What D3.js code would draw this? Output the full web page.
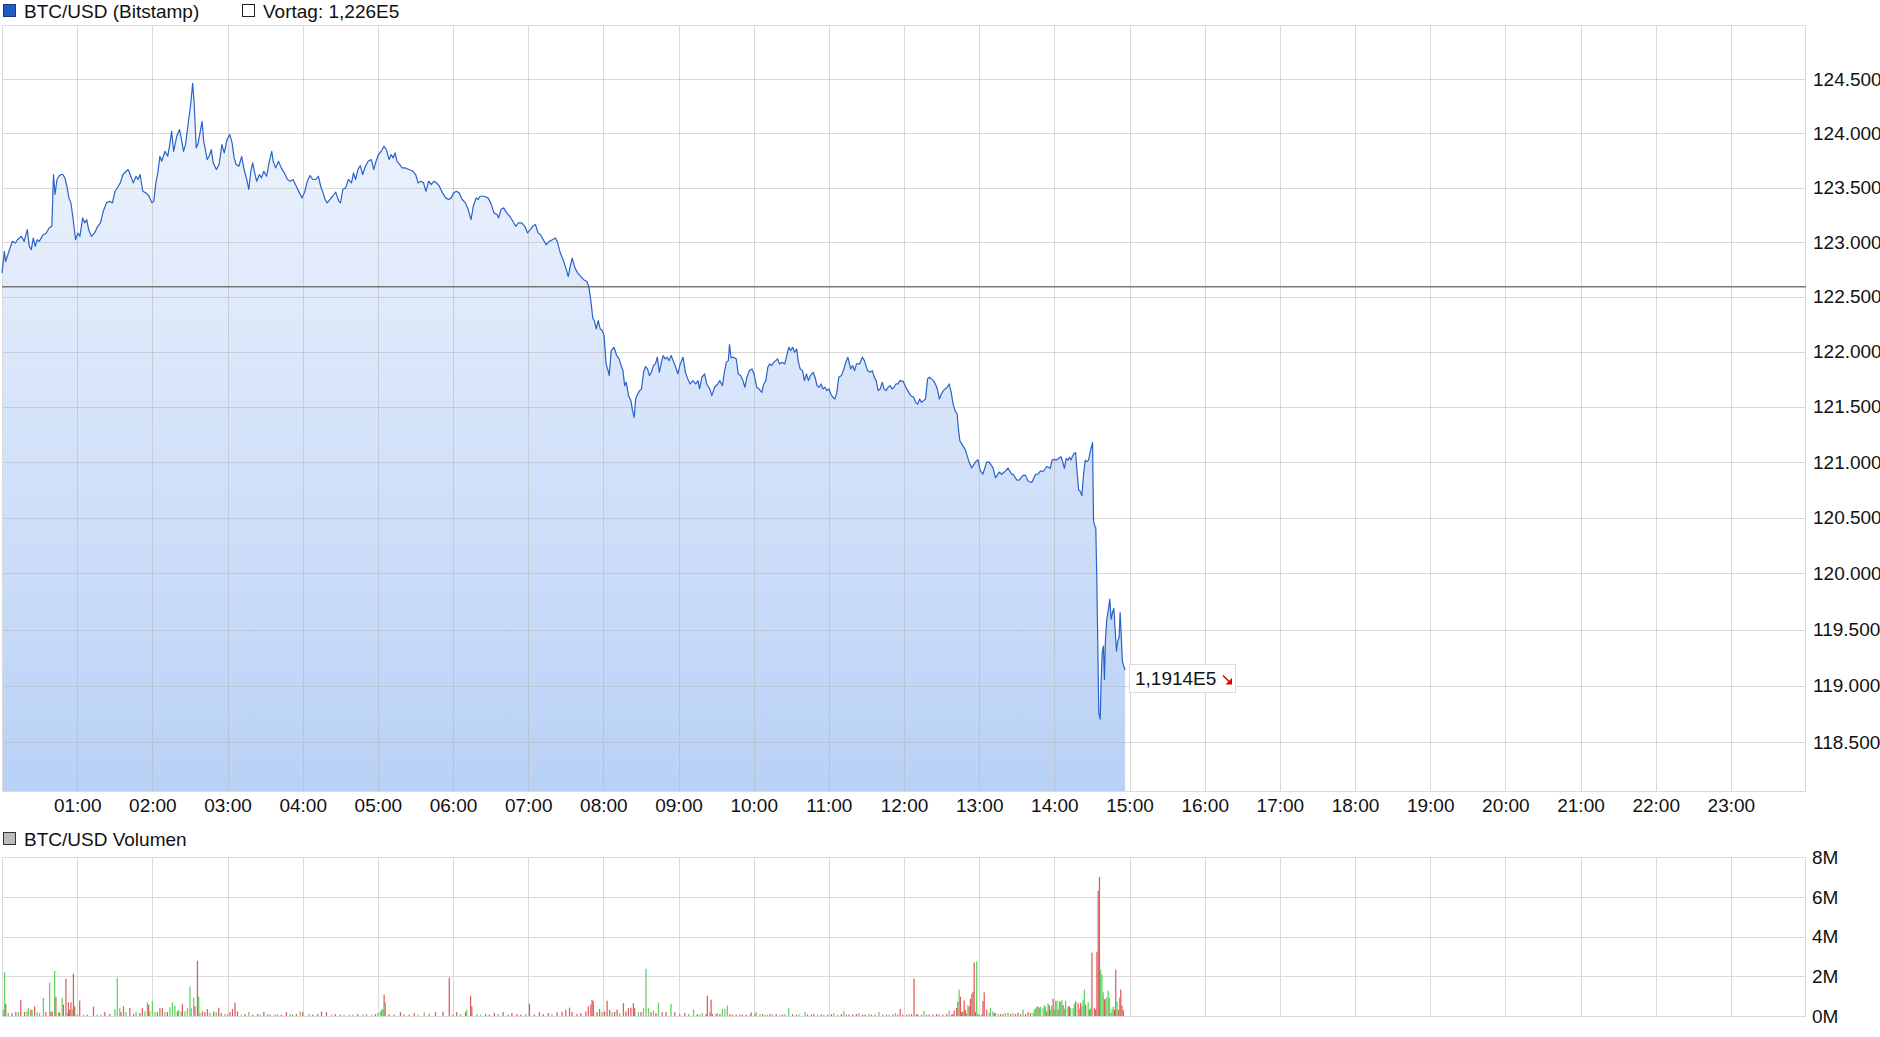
<!DOCTYPE html>
<html><head><meta charset="utf-8">
<script src="https://cdn.jsdelivr.net/npm/d3@7"></script>
<style>
html,body{margin:0;padding:0;background:#fff;}
svg{display:block;font-family:"Liberation Sans",Arial,sans-serif;}
</style></head><body>
<svg id="c" width="1880" height="1037"></svg>
<script>
// ---------- data ----------
const seriesName = "BTC/USD (Bitstamp)";
const prevCloseLabel = "Vortag: 1,226E5";
const volumeName = "BTC/USD Volumen";
const prevClose = 122590;
const lastLabel = "1,1914E5";
const xTickMinutes = [60,120,180,240,300,360,420,480,540,600,660,720,780,840,900,960,1020,1080,1140,1200,1260,1320,1380];
const xTickLabels = ["01:00","02:00","03:00","04:00","05:00","06:00","07:00","08:00","09:00","10:00","11:00","12:00","13:00","14:00","15:00","16:00","17:00","18:00","19:00","20:00","21:00","22:00","23:00"];
const priceTicks = [118500,119000,119500,120000,120500,121000,121500,122000,122500,123000,123500,124000,124500];
const volTicks = [0,2,4,6,8];
const volTickLabels = ["0M","2M","4M","6M","8M"];
// [minute of day, price]
const pricePoints = [[0,122715],[1.9,122914],[2.9,122822],[5.1,122899],[8.2,123006],[10.8,122991],[12.3,123021],[15.5,123052],[17.7,123006],[20.2,123113],[21.8,122960],[23.4,122930],[25,123037],[26.5,122960],[28.1,123021],[29.7,123006],[32.9,123067],[35.4,123083],[37.6,123129],[39.8,123144],[41.1,123620],[42.3,123436],[43.9,123574],[45.5,123604],[47.1,123620],[48.6,123620],[50.2,123589],[51.8,123512],[53.4,123405],[55,123359],[56.5,123236],[58.7,123021],[60.6,123083],[62.2,123052],[64.4,123221],[66,123175],[67.6,123205],[69.2,123113],[71.4,123052],[73.9,123083],[76.4,123144],[78.6,123175],[80.8,123282],[83.4,123359],[85.9,123374],[88.1,123359],[90.3,123466],[92.8,123512],[94.4,123543],[96.6,123620],[99.1,123650],[100.7,123666],[102.3,123620],[104.8,123543],[107,123604],[108.6,123574],[110.2,123620],[112.4,123466],[114.9,123451],[117.4,123420],[119.7,123359],[121.2,123374],[122.8,123543],[124.4,123635],[126,123788],[127.5,123742],[130.1,123834],[132.3,123788],[133.9,123896],[135.4,124018],[137,123834],[139.5,123972],[141.7,124034],[143.3,123942],[144.9,123834],[146.5,123896],[149,124126],[150.6,124264],[152.2,124463],[153.4,124279],[155,123865],[156.6,123911],[158.5,124034],[159.7,124110],[161,123926],[162.3,123850],[163.8,123758],[165.4,123788],[167,123850],[168.6,123727],[171.1,123666],[173.3,123712],[175.5,123896],[177.4,123819],[179.6,123942],[181.8,123988],[183.7,123911],[185.3,123773],[186.9,123712],[189.1,123696],[191.3,123788],[193.2,123666],[195.4,123574],[197,123482],[198.6,123650],[200.1,123727],[201.7,123635],[203.3,123558],[205.5,123620],[207.1,123589],[209,123650],[211.2,123604],[213.4,123742],[215.3,123834],[216.5,123742],[218.4,123681],[220.7,123742],[222.9,123681],[225.4,123635],[227.9,123574],[230.1,123558],[232.3,123574],[234.9,123512],[237.4,123451],[239.6,123405],[241.8,123466],[243.7,123558],[245.9,123610],[248.1,123574],[250.6,123574],[252.5,123604],[254.4,123512],[256.3,123451],[257.9,123390],[259.5,123359],[261.7,123390],[263.9,123420],[266.4,123457],[268.9,123374],[270.2,123359],[272.1,123482],[274.3,123497],[276.5,123574],[279,123543],[280.6,123635],[282.2,123574],[284.1,123666],[286,123702],[287.9,123620],[290.1,123696],[292.3,123742],[294.8,123758],[296.7,123666],[298.6,123742],[300.5,123804],[302.7,123834],[304.9,123880],[306.8,123850],[309,123758],[310.6,123804],[312.2,123773],[313.8,123819],[315.3,123742],[317.5,123712],[319.4,123681],[321.6,123681],[324.8,123666],[328,123650],[330.2,123620],[332.1,123543],[334.3,123558],[336.5,123543],[338.4,123466],[340.6,123558],[342.8,123528],[344.7,123558],[346.9,123543],[349.1,123512],[351.6,123451],[354.2,123405],[356.4,123390],[358.6,123405],[360.5,123451],[362.7,123466],[364.9,123451],[367.4,123390],[369.9,123359],[372.1,123298],[374.4,123206],[376.2,123328],[378.5,123405],[380,123390],[381.6,123420],[384.8,123420],[387.9,123405],[390.1,123359],[392.7,123267],[395.2,123252],[396.4,123221],[398.3,123298],[400.5,123313],[402.8,123267],[405.3,123236],[407.8,123190],[410,123144],[412.2,123175],[414.8,123175],[417.3,123144],[419.5,123083],[421.7,123113],[423.6,123144],[425.8,123160],[428,123083],[429.9,123067],[432.1,123021],[434.3,122975],[436.8,123006],[439.4,123021],[441.6,123037],[443.2,123006],[445.7,122899],[447.9,122837],[450.1,122761],[452,122684],[453.3,122761],[455.1,122853],[457.4,122761],[459.6,122715],[462.1,122684],[464.6,122653],[466.8,122638],[468.4,122592],[470,122469],[471.6,122301],[472.8,122282],[474.3,122206],[475.9,122282],[477.5,122206],[479.1,122191],[480.6,122145],[482.2,121888],[483.8,121827],[484.7,121782],[486.3,122009],[488.5,122039],[490.7,121964],[492.6,121933],[494.2,121873],[495.7,121827],[497,121691],[498.3,121721],[500.1,121600],[502,121555],[503.3,121464],[504.6,121403],[505.8,121570],[507.4,121615],[509,121646],[510.5,121661],[512.1,121812],[513.7,121864],[515.3,121842],[516.8,121782],[518.4,121812],[520,121873],[521.6,121888],[523.1,121949],[524.7,121812],[526.3,121903],[527.8,121964],[529.4,121933],[531,121949],[532.6,121918],[534.1,121964],[535.7,121918],[537.3,121873],[539.5,121797],[541.4,121888],[543.6,121949],[545.5,121812],[547.4,121752],[549.3,121706],[551.5,121736],[553.7,121706],[555.6,121736],[556.8,121661],[558.7,121767],[560.9,121797],[562.5,121706],[565,121661],[566.6,121600],[568.8,121676],[571.3,121706],[572.9,121736],[575.1,121691],[576.6,121812],[578.2,121903],[579.8,121918],[580.7,122064],[582,121942],[583.9,121949],[586.1,121933],[587.7,121797],[589.6,121782],[591.4,121736],[593,121676],[594.6,121767],[596.5,121827],[598.7,121842],[600.3,121797],[602.5,121676],[604.3,121661],[606.5,121630],[608.1,121706],[609.7,121736],[611.3,121858],[612.8,121888],[614.4,121873],[616,121903],[617.6,121918],[619.1,121933],[620.7,121888],[622.9,121903],[624.8,121888],[626.4,121964],[628,122039],[629.5,122009],[631.1,122039],[632.7,121994],[634.3,122024],[635.5,121918],[637.1,121842],[639,121827],[640.5,121736],[642.1,121797],[643.7,121736],[645.3,121782],[647.5,121812],[649,121767],[650.6,121691],[652.2,121676],[653.8,121706],[655.3,121661],[656.9,121676],[658.5,121646],[660.1,121661],[661.6,121615],[663.2,121585],[664.8,121570],[666.4,121630],[667.9,121767],[670.1,121782],[672,121842],[673.6,121903],[675.2,121949],[677.4,121842],[679,121873],[680.5,121827],[682.1,121888],[684.6,121888],[686.8,121949],[688.4,121918],[690.9,121827],[693.1,121812],[694.7,121827],[696.3,121767],[697.8,121736],[699.4,121646],[701,121661],[702.6,121721],[704.1,121661],[705.7,121646],[707.3,121676],[708.9,121691],[710.4,121661],[712,121676],[713.6,121706],[715.2,121706],[716.7,121736],[719.3,121730],[721.5,121676],[723.7,121630],[725.5,121600],[727.7,121585],[729.3,121539],[730.9,121524],[732.5,121570],[734,121539],[735.6,121555],[737.2,121570],[738.8,121752],[740.3,121767],[741.9,121752],[743.5,121736],[745.1,121706],[746.6,121661],[748.2,121570],[749.8,121615],[751.4,121646],[752.9,121661],[754.5,121676],[756.1,121706],[757.7,121630],[759.2,121524],[760.8,121464],[762.4,121434],[763.3,121312],[764.6,121191],[769,121110],[772,121000],[774,120946],[777,121000],[779,121022],[781,120920],[783,120892],[786,121000],[788,121000],[791,120950],[793,120859],[796,120910],[798,120890],[801,120920],[803,120946],[806,120890],[807,120892],[810,120840],[812,120837],[815,120880],[817,120880],[819,120830],[822,120816],[825,120890],[827,120892],[829,120920],[831,120915],[834,120960],[836.8,120944],[838.1,121018],[840,121024],[841.6,121018],[843.4,121033],[845.3,121048],[846.6,121004],[848,120944],[849.5,121033],[850.9,121018],[852.2,121042],[853.3,121018],[854.6,121054],[855.9,121078],[857,121084],[858,120929],[859.4,120751],[860.7,120736],[862,120697],[863.3,120885],[864.7,121018],[866,121004],[867.3,121018],[868.6,121093],[870.5,121176],[871.3,120468],[872.3,120424],[873.1,120409],[873.9,119948],[874.7,119353],[875.5,118759],[876.6,118705],[877.4,119056],[878.2,119294],[879.2,119353],[880,119056],[880.8,119413],[881.9,119591],[883.2,119681],[884.3,119770],[885.3,119591],[886.4,119651],[887.5,119687],[888.5,119502],[889.6,119309],[890.6,119398],[891.7,119428],[892.5,119651],[893.3,119472],[894.3,119220],[895.4,119175],[896.5,119140]];
// [minute of day, volume in millions, direction: 1 up, -1 down, 0 flat]
const volumeBars = [[1,0.32,0],[2,2.2,1],[3,0.62,-1],[5,0.15,1],[8,0.15,-1],[11,0.2,-1],[13,0.2,1],[15,0.82,-1],[18,0.2,-1],[20,0.23,1],[21,0.4,1],[23,0.32,-1],[24,0.32,1],[26,0.49,-1],[28,0.2,1],[30,0.15,1],[33,0.91,1],[35,0.2,-1],[38,1.69,1],[39,0.2,-1],[40,0.23,-1],[42,2.28,1],[43,0.97,-1],[45,0.18,1],[46,0.18,-1],[48,0.91,1],[49,0.57,-1],[51,1.88,-1],[52,0.15,1],[53,0.69,-1],[54,0.32,-1],[55,0.69,-1],[56,0.32,1],[57,2.13,-1],[58,0.49,-1],[60,0.07,-1],[62,0.79,-1],[65,0.07,1],[68,0.07,-1],[73,0.47,-1],[76,0.07,1],[79,0.07,1],[82,0.2,-1],[86,0.1,-1],[90,0.35,1],[92,1.93,1],[94,0.39,1],[95,0.2,-1],[97,0.49,-1],[99,0.2,1],[102,0.4,-1],[105,0.1,-1],[107,0.2,1],[110,0.15,-1],[112,0.4,-1],[114,0.23,1],[116,0.69,1],[117,0.57,-1],[118,0.23,1],[120,0.74,1],[122,0.2,1],[124,0.2,-1],[126,0.39,-1],[128,0.39,-1],[130,0.2,1],[132,0.2,-1],[134,0.44,1],[136,0.69,1],[138,0.52,1],[140,0.23,-1],[141,0.32,1],[143,0.23,1],[144,0.6,-1],[146,0.23,1],[148,0.39,1],[150,1.48,1],[151,0.39,1],[153,0.92,1],[154,0.49,-1],[156,2.79,-1],[157,0.97,1],[158,0.15,1],[160,0.23,-1],[162,0.2,-1],[164,0.35,-1],[166,0.18,1],[169,0.23,-1],[171,0.2,1],[173,0.42,-1],[175,0.15,-1],[178,0.1,1],[180,0.1,1],[182,0.2,-1],[184,0.35,-1],[186,0.67,-1],[188,0.23,-1],[191,0.07,1],[194,0.1,-1],[197,0.2,1],[200,0.07,-1],[204,0.1,-1],[206,0.07,1],[209,0.2,-1],[212,0.1,1],[214,0.07,-1],[218,0.07,-1],[220,0.1,1],[223,0.07,-1],[227,0.2,-1],[230,0.1,1],[232,0.07,-1],[235,0.1,-1],[238,0.23,1],[240,0.2,-1],[245,0.1,1],[248,0.07,-1],[252,0.1,-1],[255,0.23,-1],[259,0.2,-1],[263,0.07,1],[266,0.1,-1],[270,0.07,-1],[273,0.07,1],[277,0.07,1],[280,0.07,1],[284,0.1,-1],[288,0.07,1],[291,0.1,1],[295,0.07,1],[298,0.1,-1],[300,0.15,1],[302,0.23,1],[303,0.32,1],[304,0.35,1],[305,1.07,-1],[306,0.69,1],[309,0.1,-1],[313,0.07,-1],[318,0.2,-1],[321,0.1,1],[325,0.07,-1],[329,0.15,-1],[332,0.07,1],[337,0.2,1],[341,0.1,-1],[346,0.2,-1],[352,0.22,-1],[357,1.93,-1],[360,0.07,-1],[363,0.2,-1],[366,0.1,1],[370,0.2,-1],[371,0.32,1],[374,1.02,-1],[375,0.49,-1],[379,0.1,1],[382,0.07,1],[386,0.1,-1],[389,0.07,-1],[393,0.15,-1],[396,0.1,1],[400,0.2,-1],[404,0.07,-1],[407,0.15,-1],[411,0.1,-1],[414,0.07,-1],[418,0.1,1],[421,0.62,-1],[425,0.07,-1],[429,0.2,-1],[432,0.1,-1],[436,0.15,-1],[439,0.1,1],[443,0.2,-1],[447,0.22,-1],[450,0.32,-1],[453,0.42,-1],[455,0.2,-1],[459,0.1,-1],[462,0.15,-1],[466,0.23,-1],[468,0.49,-1],[470,0.57,-1],[471,0.82,-1],[472,0.74,-1],[475,0.2,-1],[477,0.35,-1],[479,0.2,1],[481,0.23,-1],[483,0.77,-1],[485,0.32,-1],[487,0.2,1],[489,0.2,-1],[491,0.32,-1],[493,0.15,1],[496,0.65,-1],[498,0.23,-1],[500,0.4,-1],[502,0.42,-1],[504,0.65,-1],[505,0.39,-1],[508,0.2,1],[510,0.2,-1],[512,0.39,1],[514,2.38,1],[516,0.39,1],[518,0.2,-1],[520,0.27,1],[522,0.15,-1],[524,0.67,1],[527,0.2,-1],[530,0.2,-1],[534,0.62,1],[537,0.2,-1],[541,0.1,-1],[545,0.15,-1],[548,0.1,1],[552,0.32,1],[555,0.1,-1],[557,0.07,1],[559,0.15,1],[562,0.1,-1],[563,1.02,-1],[565,0.2,1],[566,0.82,-1],[567,0.1,-1],[570,0.1,-1],[571,0.15,1],[573,0.1,-1],[575,0.35,1],[577,0.35,1],[579,0.52,1],[581,0.1,-1],[583,0.07,-1],[586,0.07,-1],[589,0.07,-1],[591,0.07,-1],[594,0.07,-1],[597,0.07,1],[598,0.18,-1],[601,0.1,-1],[602,0.2,1],[605,0.1,1],[607,0.1,-1],[609,0.07,1],[611,0.07,1],[613,0.1,-1],[615,0.07,1],[618,0.1,-1],[621,0.07,1],[623,0.07,-1],[625,0.1,1],[628,0.4,1],[631,0.1,-1],[634,0.07,-1],[636,0.1,1],[641,0.2,1],[643,0.07,-1],[646,0.07,-1],[648,0.1,-1],[651,0.07,1],[654,0.07,-1],[656,0.07,1],[659,0.07,-1],[662,0.1,-1],[664,0.15,1],[667,0.07,1],[670,0.1,-1],[672,0.27,1],[674,0.07,-1],[676,0.07,-1],[679,0.07,-1],[682,0.1,-1],[684,0.15,1],[687,0.07,-1],[689,0.07,-1],[692,0.1,1],[694,0.07,-1],[697,0.07,-1],[700,0.2,1],[703,0.07,-1],[706,0.07,-1],[708,0.07,1],[711,0.07,-1],[713,0.15,1],[715,0.07,-1],[717,0.35,-1],[719,0.07,-1],[722,0.07,-1],[724,0.07,-1],[726,0.1,-1],[728,1.88,-1],[730,0.1,-1],[731,0.07,-1],[734,0.07,-1],[736,0.27,1],[738,0.07,-1],[740,0.07,-1],[743,0.07,-1],[746,0.1,-1],[748,0.07,-1],[751,0.07,-1],[754,0.1,-1],[756,0.27,1],[758,0.07,-1],[759,0.1,-1],[760,0.27,-1],[762,0.4,-1],[763,0.72,-1],[764,1.33,1],[765,0.97,-1],[766,0.2,-1],[767,0.23,-1],[768,0.79,-1],[769,0.32,-1],[770,0.15,1],[771,0.55,1],[772,0.47,-1],[773,0.87,-1],[774,1.11,1],[775,1.22,-1],[776,2.7,-1],[777,0.2,-1],[778,2.75,1],[779,0.1,1],[780,0.07,-1],[782,0.07,-1],[783,0.75,-1],[784,1.19,-1],[786,0.32,-1],[788,0.15,1],[789,0.4,1],[791,0.23,1],[792,0.15,-1],[793,0.15,1],[795,0.1,1],[797,0.1,-1],[799,0.1,-1],[801,0.15,1],[803,0.17,1],[805,0.1,-1],[807,0.15,1],[809,0.1,-1],[811,0.17,-1],[813,0.1,-1],[815,0.32,1],[817,0.1,-1],[819,0.2,-1],[821,0.15,-1],[823,0.15,1],[824,0.32,1],[825,0.39,1],[826,0.47,1],[827,0.47,-1],[828,0.42,1],[829,0.47,1],[831,0.39,1],[832,0.54,1],[833,0.47,1],[834,0.23,-1],[835,0.64,1],[836,0.54,-1],[837,0.32,1],[838,0.52,1],[839,0.87,-1],[840,0.32,1],[841,0.77,1],[842,0.77,1],[843,0.32,-1],[844,0.74,1],[845,0.72,1],[846,0.81,1],[847,0.55,-1],[848,0.37,1],[849,0.77,1],[851,0.47,-1],[852,0.49,-1],[853,0.4,1],[855,0.4,1],[856,0.62,1],[857,0.74,-1],[859,0.64,-1],[860,0.37,1],[861,0.67,-1],[862,0.52,1],[863,0.82,1],[864,1.33,1],[865,0.57,-1],[867,0.7,1],[868,0.32,-1],[869,0.39,1],[870,3.19,-1],[872,0.39,-1],[873,0.32,-1],[874,3.24,-1],[875,6.31,-1],[876,7.01,-1],[877,2.32,1],[878,2.08,1],[879,1.19,1],[880,0.84,-1],[881,0.87,1],[882,0.94,1],[883,1.28,1],[884,0.91,1],[885,0.15,1],[886,0.32,1],[887,0.47,1],[888,0.32,-1],[889,2.33,-1],[890,0.72,1],[891,0.32,-1],[892,0.92,1],[893,1.33,-1],[894,0.52,-1],[895,0.29,-1]];

// ---------- layout ----------
const svg = d3.select("#c");
const L = 2, R = 1806;
const mainTop = 25, mainBottom = 791;
const volTop = 857.3, volBottom = 1016;
const x = d3.scaleLinear().domain([0, 1440]).range([L, R]);
const y = d3.scaleLog().domain([124500, 118500]).range([79.3, 742.3]);
const yv = d3.scaleLinear().domain([0, 8]).range([volBottom, volTop]);
const gridColor = "#dadada";
const deLocale = d3.formatLocale({decimal: ",", thousands: ".", grouping: [3], currency: ["", "€"]});
const fmtPrice = deLocale.format(",.0f");

// gradient
const defs = svg.append("defs");
const grad = defs.append("linearGradient").attr("id", "fillGrad")
  .attr("gradientUnits", "userSpaceOnUse").attr("x1", 0).attr("x2", 0)
  .attr("y1", mainTop).attr("y2", mainBottom);
grad.append("stop").attr("offset", 0).attr("stop-color", "#f4f7fe");
grad.append("stop").attr("offset", 1).attr("stop-color", "#b9d1f6");
defs.append("clipPath").attr("id", "mainClip").append("rect")
  .attr("x", L).attr("y", mainTop).attr("width", R - L).attr("height", mainBottom - mainTop);

// ---------- legend ----------
svg.append("rect").attr("x", 3.5).attr("y", 4.5).attr("width", 12).attr("height", 12)
  .attr("fill", "#1f5cc6").attr("stroke", "#123a80");
svg.append("text").attr("x", 24).attr("y", 18).attr("font-size", 19).attr("fill", "#111").text(seriesName);
svg.append("rect").attr("x", 242.5).attr("y", 4.5).attr("width", 12).attr("height", 12)
  .attr("fill", "#fff").attr("stroke", "#222");
svg.append("text").attr("x", 263).attr("y", 18).attr("font-size", 19).attr("fill", "#111").text(prevCloseLabel);

// ---------- main chart ----------
const main = svg.append("g");
const area = d3.area().x(d => x(d[0])).y0(mainBottom).y1(d => y(d[1]));
main.append("path").datum(pricePoints).attr("d", area).attr("fill", "url(#fillGrad)")
  .attr("clip-path", "url(#mainClip)");
const gridG = main.append("g").attr("stroke", "#b4b4b4").attr("stroke-opacity", 0.5).attr("stroke-width", 1);
priceTicks.forEach(v => {
  gridG.append("line").attr("x1", L).attr("x2", R).attr("y1", Math.round(y(v)) + 0.5).attr("y2", Math.round(y(v)) + 0.5);
});
xTickMinutes.forEach(m => {
  gridG.append("line").attr("x1", Math.round(x(m)) + 0.5).attr("x2", Math.round(x(m)) + 0.5).attr("y1", mainTop).attr("y2", mainBottom);
});
main.append("rect").attr("x", L + 0.5).attr("y", mainTop + 0.5).attr("width", R - L - 1).attr("height", mainBottom - mainTop)
  .attr("fill", "none").attr("stroke", gridColor);
main.append("line").attr("x1", L).attr("x2", R).attr("y1", y(prevClose)).attr("y2", y(prevClose))
  .attr("stroke", "#7a7a7a").attr("stroke-width", 1.5);
const line = d3.line().x(d => x(d[0])).y(d => y(d[1]));
main.append("path").datum(pricePoints).attr("d", line).attr("fill", "none")
  .attr("stroke", "#2a63c8").attr("stroke-width", 1.2).attr("stroke-linejoin", "round");

// y axis labels
const yAxis = d3.axisRight(y).tickValues(priceTicks).tickFormat(fmtPrice).tickSize(0).tickPadding(7);
const yAxisG = svg.append("g").attr("transform", `translate(${R},0)`).call(yAxis);
yAxisG.select(".domain").remove();
yAxisG.selectAll("text").attr("font-size", 19).attr("fill", "#111").attr("font-family", "Liberation Sans, Arial, sans-serif");

// x axis labels
const xAxis = d3.axisBottom(x).tickValues(xTickMinutes).tickFormat((d, i) => xTickLabels[i]).tickSize(0).tickPadding(0);
const xAxisG = svg.append("g").attr("transform", `translate(0,${mainBottom})`).call(xAxis);
xAxisG.select(".domain").remove();
xAxisG.selectAll("text").attr("font-size", 19).attr("fill", "#111").attr("dy", null).attr("y", 21)
  .attr("font-family", "Liberation Sans, Arial, sans-serif");

// last value label
const last = pricePoints[pricePoints.length - 1];
const ly = y(last[1]) + 8.5;
const lab = svg.append("g");
lab.append("rect").attr("x", 1129.5).attr("y", Math.round(ly - 14) + 0.5).attr("width", 106).attr("height", 28)
  .attr("fill", "#fff").attr("stroke", "#dcdcdc");
lab.append("text").attr("x", 1135).attr("y", ly + 6.5).attr("font-size", 19).attr("fill", "#111").text(lastLabel);
lab.append("line").attr("x1", 1223).attr("y1", ly - 3).attr("x2", 1229).attr("y2", ly + 3)
  .attr("stroke", "#e00000").attr("stroke-width", 1.6);
lab.append("path").attr("d", `M${1232},${ly + 6} L${1225.5},${ly + 6} L${1232},${ly - 0.5} Z`).attr("fill", "#e00000");

// ---------- volume chart ----------
svg.append("rect").attr("x", 3.5).attr("y", 832.5).attr("width", 12).attr("height", 12)
  .attr("fill", "#bdbdbd").attr("stroke", "#333");
svg.append("text").attr("x", 24).attr("y", 846).attr("font-size", 19).attr("fill", "#111").text(volumeName);

const vol = svg.append("g");
const vg = vol.append("g").attr("stroke", gridColor).attr("stroke-width", 1);
volTicks.forEach(v => {
  vg.append("line").attr("x1", L).attr("x2", R).attr("y1", Math.round(yv(v)) + 0.5).attr("y2", Math.round(yv(v)) + 0.5);
});
xTickMinutes.forEach(m => {
  vg.append("line").attr("x1", Math.round(x(m)) + 0.5).attr("x2", Math.round(x(m)) + 0.5).attr("y1", volTop).attr("y2", volBottom);
});
vol.append("rect").attr("x", L + 0.5).attr("y", Math.round(volTop) + 0.5).attr("width", R - L - 1).attr("height", Math.round(volBottom) - Math.round(volTop))
  .attr("fill", "none").attr("stroke", gridColor);
const colorFor = d => d[2] > 0 ? "#5fd35f" : (d[2] < 0 ? "#e05c5c" : "#a8a8a8");
vol.selectAll("rect.bar").data(volumeBars).join("rect").attr("class", "bar")
  .attr("x", d => x(d[0]) - 0.6).attr("width", 1.25)
  .attr("y", d => yv(d[1])).attr("height", d => yv(0) - yv(d[1]))
  .attr("fill", colorFor);

const yvAxis = d3.axisRight(yv).tickValues(volTicks).tickFormat((d, i) => volTickLabels[i]).tickSize(0).tickPadding(6);
const yvAxisG = svg.append("g").attr("transform", `translate(${R},0)`).call(yvAxis);
yvAxisG.select(".domain").remove();
yvAxisG.selectAll("text").attr("font-size", 19).attr("fill", "#111").attr("font-family", "Liberation Sans, Arial, sans-serif");
</script>
</body></html>
